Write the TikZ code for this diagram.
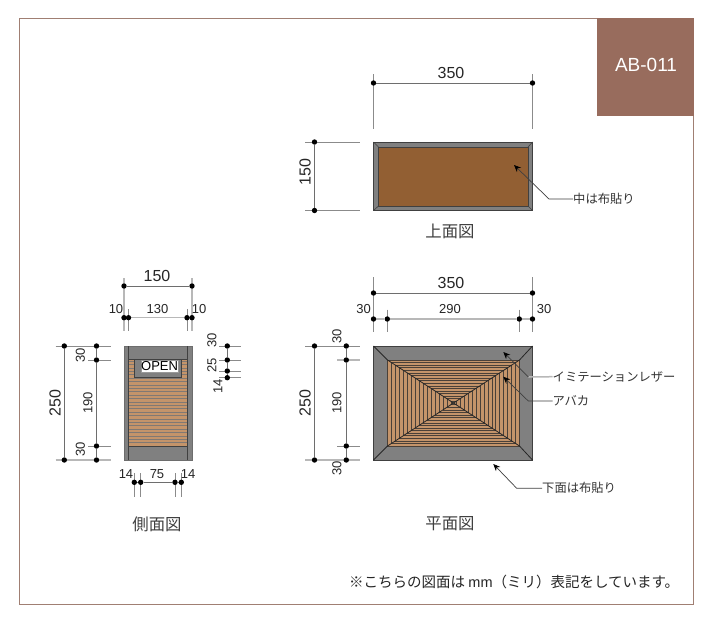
\documentclass[tikz,border=0pt]{standalone}
\usepackage{fontspec}
\setmainfont{Liberation Sans}
\newfontfamily\cjk{Noto Sans CJK JP}
\usetikzlibrary{arrows.meta}
\pgfdeclarelayer{dots}
\pgfsetlayers{main,dots}
\definecolor{tagbrown}{HTML}{986C5D}
\definecolor{framebrown}{HTML}{A07F73}
\definecolor{fabric}{HTML}{925F33}
\definecolor{wallgrey}{HTML}{808080}
\definecolor{slat}{HTML}{C4946A}
\definecolor{slatline}{HTML}{4A4038}
\definecolor{edge}{HTML}{404040}
\definecolor{dimline}{HTML}{6E6E6E}
\definecolor{extwide}{HTML}{B8B8B8}
\tikzset{
  dimdot/.style={circle,fill=black,inner sep=0pt,minimum size=5.4pt},
  dimrun/.style={draw=dimline,line width=0.8pt},
  extthin/.style={draw=dimline!80,line width=0.7pt},
  extthick/.style={draw=extwide,line width=1.5pt},
  numbig/.style={font=\fontsize{16}{16}\selectfont,text=black!85,inner sep=0pt},
  numsmall/.style={font=\fontsize{13}{13}\selectfont,text=black!85,inner sep=0pt},
  caption/.style={font=\cjk\fontsize{16.4}{16.4}\selectfont,text=black!75,inner sep=0pt},
  callout/.style={font=\cjk\fontsize{12.3}{12.3}\selectfont,text=black!80,inner sep=0pt,anchor=west},
  leader/.style={draw=black!75,line width=0.7pt,-{Stealth[length=7pt,width=6pt,color=black]}},
  slatring/.style={draw=slatline,line width=0.5pt}
}
\newcommand{\dimpt}[3]{\begin{pgfonlayer}{dots}\node[dimdot] (#1) at (#2,#3) {};\end{pgfonlayer}}
\begin{document}
\begin{tikzpicture}[x=1pt,y=-1pt]
\useasboundingbox (0,0) rectangle (712,622);
\fill[white] (0,0) rectangle (712,622);
% frame and tag
\draw[framebrown,line width=1pt] (19,18) rectangle (693.5,604);
\node[fill=tagbrown,minimum width=97pt,minimum height=98pt,inner sep=0pt,anchor=north west] (tag) at (596.5,18) {};
\node[font=\fontsize{19}{19}\selectfont,text=white,inner sep=0pt] (tagtext) at (646,65) {AB-011};

% ---------- top view ----------
\fill[wallgrey] (373.5,142) rectangle (532.5,210.5);
\fill[fabric] (378.5,147) rectangle (528,206);
\draw[edge,line width=0.8pt] (373.5,142) rectangle (532.5,210.5);
\draw[edge,line width=0.8pt] (378.5,147) rectangle (528,206);
\draw[edge,line width=0.6pt] (373.5,142)--(378.5,147) (532.5,142)--(528,147) (373.5,210.5)--(378.5,206) (532.5,210.5)--(528,206);
\dimpt{ta}{373.5}{83}\dimpt{tb}{532.5}{83}
\draw[dimrun] (ta)--(tb);
\coordinate (ta1) at (373.5,74);\coordinate (ta2) at (373.5,129);
\coordinate (tb1) at (532.5,74);\coordinate (tb2) at (532.5,129);
\draw[extthin] (ta1)--(ta2) (tb1)--(tb2);
\node[numbig] (t350) at (451,73) {350};
\dimpt{tc}{314.5}{142}\dimpt{td}{314.5}{210.5}
\draw[dimrun] (tc)--(td);
\coordinate (tc1) at (305,142);\coordinate (tc2) at (360,142);
\coordinate (td1) at (305,210.5);\coordinate (td2) at (360,210.5);
\draw[extthin] (tc1)--(tc2) (td1)--(td2);
\node[numbig,rotate=90] (t150) at (305,172) {150};
\node[callout] (tcall) at (573,199) {中は布貼り};
\coordinate (tbend) at (549,199);\coordinate (ttip) at (514,165);
\draw[leader] (tcall.west)--(tbend)--(ttip);
\node[caption] (tcap) at (450,231.5) {上面図};

% ---------- side view ----------
\fill[wallgrey] (124,346) rectangle (192,460);
\fill[slat] (128.7,359.5) rectangle (187.3,446);
\foreach \yy in {361,364.4,...,446}{\draw[slatline!70,line width=0.6pt] (128.7,\yy)--(187.3,\yy);}
\fill[wallgrey] (134.3,359.5) rectangle (181.7,377.7);
\draw[edge,line width=0.5pt] (134.3,359.5)--(134.3,377.7)--(181.7,377.7)--(181.7,359.5);
\node[fill=white,draw=black!40,line width=0.3pt,minimum width=36pt,minimum height=12pt,inner sep=0pt,anchor=north west,font=\fontsize{13}{13}\selectfont] (open) at (141,359.5) {OPEN};
\draw[wallgrey!85!black,line width=0.7pt] (124,346) rectangle (192,460);
\draw[edge,line width=0.8pt] (128.7,346)--(128.7,460) (187.3,346)--(187.3,460);
\draw[edge,line width=0.5pt] (128.7,359.5)--(187.3,359.5) (128.7,446)--(187.3,446);
% side: top dims
\dimpt{sa}{124}{286}\dimpt{sb}{192}{286}
\draw[dimrun] (sa)--(sb);
\coordinate (sa1) at (124,278);\coordinate (sa2) at (124,331);
\coordinate (sb1) at (192,278);\coordinate (sb2) at (192,331);
\draw[extthick] (sa1)--(sa2) (sb1)--(sb2);
\dimpt{sc}{124}{317.7}\dimpt{sd}{128.5}{317.7}\dimpt{se}{187}{317.7}\dimpt{sf}{192}{317.7}
\draw[extthick] (sc)--(sd)--(se)--(sf);
\coordinate (sd1) at (128.5,309);\coordinate (sd2) at (128.5,331);
\coordinate (se1) at (187,309);\coordinate (se2) at (187,331);
\draw[extthin] (sd1)--(sd2) (se1)--(se2);
\node[numbig] (s150) at (157,276) {150};
\node[numsmall] (s10a) at (116,309) {10};
\node[numsmall] (s130) at (157.5,309) {130};
\node[numsmall] (s10b) at (199,309) {10};
% side: left dims
\dimpt{sg}{64.3}{346}\dimpt{sh}{64.3}{460}
\draw[dimrun] (sg)--(sh);
\dimpt{si}{96.5}{346}\dimpt{sj}{96.5}{360}\dimpt{sk}{96.5}{446}\dimpt{sl}{96.5}{460}
\draw[dimrun] (si)--(sj)--(sk)--(sl);
\coordinate (sg1) at (55.5,346);\coordinate (sg2) at (110.5,346);
\coordinate (sh1) at (55.5,460);\coordinate (sh2) at (110.5,460);
\coordinate (sj1) at (88,360);\coordinate (sj2) at (110.5,360);
\coordinate (sk1) at (88,446);\coordinate (sk2) at (110.5,446);
\draw[extthin] (sg1)--(sg2) (sj1)--(sj2) (sk1)--(sk2);
\draw[extthick] (sh1)--(sh2);
\node[numbig,rotate=90] (s250) at (55,403) {250};
\node[numsmall,rotate=90] (s190) at (88,403) {190};
\node[numsmall,rotate=90] (s30a) at (80.5,355.5) {30};
\node[numsmall,rotate=90] (s30b) at (80.5,449) {30};
% side: right dims
\dimpt{sm}{227.3}{346}\dimpt{sn}{227.3}{360}\dimpt{so}{227.3}{371}\dimpt{sp}{227.3}{377.7}
\draw[dimrun] (sm)--(sn)--(so)--(sp);
\coordinate (sm1) at (219,346);\coordinate (sm2) at (241,346);
\coordinate (sn1) at (219,360);\coordinate (sn2) at (241,360);
\coordinate (so1) at (219,371);\coordinate (so2) at (241,371);
\coordinate (sp1) at (219,377.7);\coordinate (sp2) at (241,377.7);
\draw[extthin] (sm1)--(sm2) (sn1)--(sn2) (so1)--(so2) (sp1)--(sp2);
\node[numsmall,rotate=90] (r30) at (212,340.5) {30};
\node[numsmall,rotate=90] (r25) at (212,365) {25};
\node[numsmall,rotate=90] (r14) at (218,386) {14};
% side: bottom dims
\dimpt{su}{134.3}{482.3}\dimpt{sv}{140.7}{482.3}\dimpt{sw}{175}{482.3}\dimpt{sx}{181.3}{482.3}
\draw[dimrun] (su)--(sv)--(sw)--(sx);
\coordinate (su1) at (134.3,473);\coordinate (su2) at (134.3,496.5);
\coordinate (sv1) at (140.7,473);\coordinate (sv2) at (140.7,496.5);
\coordinate (sw1) at (175,473);\coordinate (sw2) at (175,496.5);
\coordinate (sx1) at (181.3,473);\coordinate (sx2) at (181.3,496.5);
\draw[extthin] (su1)--(su2) (sv1)--(sv2) (sw1)--(sw2) (sx1)--(sx2);
\node[numsmall] (b14a) at (126,474) {14};
\node[numsmall] (b75) at (157,474) {75};
\node[numsmall] (b14b) at (188,474) {14};
\node[caption] (scap) at (157,524) {側面図};

% ---------- plan view ----------
\fill[wallgrey] (373.5,346) rectangle (532.5,460);
\fill[slat] (387.7,360) rectangle (519.3,446);
\foreach \ff in {0,0.06,...,0.97}{
  \draw[slatring] ({453.5-66*(1-\ff)},{403-43*(1-\ff)}) rectangle ({453.5+66*(1-\ff)},{403+43*(1-\ff)});
}
\draw[edge,line width=0.8pt] (373.5,346) rectangle (532.5,460);
\draw[black!85,line width=0.8pt]
  (373.5,346)--(387.5,360)--(519.5,446)--(532.5,460)
  (532.5,346)--(519.5,360)--(387.5,446)--(373.5,460);
% plan: top dims
\dimpt{pa}{373.5}{293}\dimpt{pb}{532.5}{293}
\draw[dimrun] (pa)--(pb);
\coordinate (pa1) at (373.5,277);\coordinate (pa2) at (373.5,332);
\coordinate (pb1) at (532.5,277);\coordinate (pb2) at (532.5,332);
\draw[extthin] (pa1)--(pa2) (pb1)--(pb2);
\dimpt{pc}{373.5}{319}\dimpt{pd}{387.3}{319}\dimpt{pe}{519.3}{319}\dimpt{pf}{532.5}{319}
\draw[extthick] (pc)--(pd)--(pe)--(pf);
\coordinate (pd1) at (387.3,309.5);\coordinate (pd2) at (387.3,332);
\coordinate (pe1) at (519.3,309.5);\coordinate (pe2) at (519.3,332);
\draw[extthin] (pd1)--(pd2) (pe1)--(pe2);
\node[numbig] (p350) at (451,283) {350};
\node[numsmall] (p30a) at (363.5,309) {30};
\node[numsmall] (p290) at (450,309) {290};
\node[numsmall] (p30b) at (544,309) {30};
% plan: left dims
\dimpt{pg}{314.5}{346}\dimpt{ph}{314.5}{460}
\draw[dimrun] (pg)--(ph);
\dimpt{pi}{346.3}{346}\dimpt{pj}{346.3}{360}\dimpt{pk}{346.3}{446}\dimpt{pl}{346.3}{460}
\draw[dimrun] (pi)--(pj)--(pk)--(pl);
\coordinate (pg1) at (305,346);\coordinate (pg2) at (360,346);
\coordinate (ph1) at (305,460);\coordinate (ph2) at (360,460);
\coordinate (pj1) at (337,360);\coordinate (pj2) at (360,360);
\coordinate (pk1) at (337,446);\coordinate (pk2) at (360,446);
\draw[extthin] (pg1)--(pg2) (pk1)--(pk2);
\draw[extthick] (ph1)--(ph2) (pj1)--(pj2);
\node[numbig,rotate=90] (p250) at (305,403) {250};
\node[numsmall,rotate=90] (p190) at (337,403) {190};
\node[numsmall,rotate=90] (p30c) at (337,336) {30};
\node[numsmall,rotate=90] (p30d) at (337,468) {30};
% plan: callouts
\node[callout] (pcall1) at (552.5,376.7) {イミテーションレザー};
\coordinate (pb1a) at (528.3,377);\coordinate (ptip1) at (503.3,352);
\draw[extthick] (pcall1.west)--(pb1a);
\draw[leader] (pb1a)--(ptip1);
\node[callout] (pcall2) at (552.5,401) {アバカ};
\coordinate (pb2a) at (528.3,401);\coordinate (ptip2) at (503.3,376.7);
\draw[leader] (pcall2.west)--(pb2a)--(ptip2);
\node[callout] (pcall3) at (542,488.3) {下面は布貼り};
\coordinate (pb3a) at (516.7,488.3);\coordinate (ptip3) at (493.3,464);
\draw[leader] (pcall3.west)--(pb3a)--(ptip3);
\node[caption] (pcap) at (450,524) {平面図};

% note
\node[font=\cjk\fontsize{14.5}{14.5}\selectfont,text=black!85,inner sep=0pt,anchor=west] (note) at (349,581.7) {※こちらの図面は {\fontspec{Liberation Sans}mm}（ミリ）表記をしています。};
\end{tikzpicture}
\end{document}
